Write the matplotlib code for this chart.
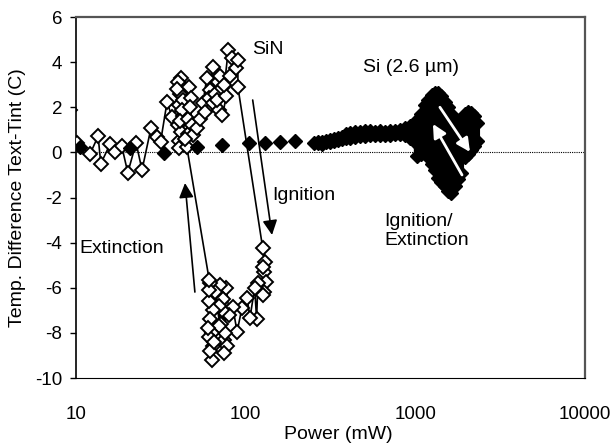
#!/usr/bin/env python3
from __future__ import annotations

import matplotlib

matplotlib.use("Agg")
import matplotlib.pyplot as plt


# SiN film (open diamonds, connected in measurement order)
SIN_POWER = [
    9.2, 10.1, 12.1, 13.5, 14.0, 15.9, 16.9, 18.6, 20.2, 22.6, 24.5, 27.7, 30.0, 31.5, 34.4, 36.8,
    40.5, 41.5, 39.8, 42.5, 40.2, 41.0, 42.8, 40.0, 41.8, 43.0, 40.6, 42.2, 39.6, 41.2,
    46.5, 45.5, 47.5, 46.0, 48.0, 47.0, 49.0, 52.0, 54.0, 56.0, 59.0, 62.0, 57.5, 64.0, 60.5, 64.0,
    69.0, 66.0, 70.0, 73.0, 67.5, 73.0, 77.0, 71.0, 81.0, 75.0, 79.0, 83.0, 88.0, 90.0, 90.0,
    126.0, 130.0, 128.0, 131.0, 127.0, 129.0, 126.0, 118.0, 116.0, 113.0, 106.0, 102.0, 95.0, 89.0,
    84.0, 80.0, 77.0, 75.0, 74.0, 72.0, 78.0, 71.0, 73.0, 76.0, 70.0, 69.5, 74.5,
    66.0, 64.0, 62.0, 63.0, 61.0, 64.0, 62.0, 63.0, 61.0, 60.5, 62.0, 60.0, 65.0, 61.0,
    45.0, 44.0,
]
SIN_DT = [
    1.9, 0.42, -0.07, 0.72, -0.5, 0.37, 0.02, 0.28, -0.9, 0.42, -0.78, 1.1, 0.7, 0.46, 2.23, 1.57,
    2.1, 3.3, 1.2, 2.9, 0.5, 2.6, 1.6, 3.1, 0.9, 2.3, 0.2, 1.9, 2.8, 1.4,
    2.9, 1.5, 2.4, 0.8, 1.2, 2.0, 0.75, 1.1, 1.5, 2.2, 3.3, 2.75, 1.8, 3.8, 2.4, 2.2,
    3.1, 2.6, 1.9, 2.85, 2.3, 1.65, 2.5, 3.4, 3.4, 3.0, 4.55, 4.18, 3.75, 4.1, 2.9,
    -4.24, -4.86, -5.3, -5.75, -5.1, -6.2, -6.3, -5.8, -7.4, -6.0, -7.34, -6.45, -6.9, -7.96,
    -6.85, -7.2, -6.0, -8.3, -6.5, -7.6, -8.6, -5.9, -7.0, -8.0, -6.8, -7.7, -8.9,
    -6.2, -7.0, -5.8, -8.0, -6.6, -8.6, -7.4, -9.2, -8.2, -6.1, -8.8, -7.8, -8.4, -5.66,
    0.24, 0.6,
]

# Si (2.6 um) film, sparse low-power points (filled diamonds)
SI_SPARSE_POWER = [10.6, 20.8, 33, 52, 73, 104, 130, 159, 195, 252]
SI_SPARSE_DT = [0.24, 0.19, -0.03, 0.24, 0.33, 0.42, 0.42, 0.46, 0.5, 0.42]

# Si dense high-power readings (alternating high / low per power step)
SI_DENSE_POWER = [
    267, 267, 282, 282, 297, 297, 314, 314, 331, 331, 350, 350, 369, 369, 390, 390,
    412, 412, 441, 441, 472, 472, 505, 505, 540, 540, 578, 578, 619, 619, 662, 662,
    709, 709, 758, 758, 811, 811, 868, 868, 929, 929, 981, 981, 1022, 1022, 1079, 1079,
    1139, 1139, 1187, 1187, 1253, 1253, 1305, 1305, 1359, 1359, 1416, 1416, 1494, 1494,
    1557, 1557, 1622, 1622, 1712, 1712, 1783, 1783, 1857, 1857, 1960, 1960, 2042, 2042,
    2127, 2127, 2215, 2215, 2307, 2307,
]
SI_DENSE_DT = [
    0.40, 0.45, 0.48, 0.38, 0.50, 0.45, 0.48, 0.57, 0.60, 0.52, 0.55, 0.65, 0.70, 0.60, 0.62, 0.80,
    0.85, 0.65, 0.70, 0.90, 0.90, 0.72, 0.72, 0.95, 0.95, 0.75, 0.78, 0.90, 0.95, 0.75, 0.78, 0.90,
    0.95, 0.75, 0.80, 0.95, 1.00, 0.80, 0.75, 1.10, 1.15, 0.65, 0.50, 1.25, 1.45, -0.15, -0.05, 1.70,
    2.10, 0.15, -0.20, 2.30, 2.55, -0.50, -0.80, 2.65, 2.65, -1.15, -1.30, 2.50, 2.25, -1.50,
    -1.70, 2.00, 1.70, -1.80, -1.50, 1.25, 1.30, -1.20, -0.90, 1.50, 1.70, -0.20, -0.05, 1.80,
    1.75, 0.10, 0.30, 1.60, 1.30, 0.50,
]

Y_TICKS = [-10, -8, -6, -4, -2, 0, 2, 4, 6]
X_TICKS = [10, 100, 1000, 10000]
X_TICK_LABELS = ["10", "100", "1000", "10000"]

FONT = "Liberation Sans"
FS = 14
MS = 7.0


def arrow(ax, start, end, color, lw, scale):
    ax.annotate(
        "", xy=end, xytext=start, zorder=6,
        arrowprops=dict(arrowstyle="-|>", color=color, lw=lw, mutation_scale=scale,
                        shrinkA=0, shrinkB=0),
    )


def main() -> None:
    plt.rcParams["font.family"] = [FONT, "DejaVu Sans"]
    plt.rcParams["axes.unicode_minus"] = False
    fig = plt.figure(figsize=(6.15, 4.44), dpi=100)
    ax = fig.add_axes([76 / 615, 1 - 378 / 444, 509 / 615, 361 / 444])

    ax.axhline(0, color="black", lw=0.8, ls=(0, (1, 1)), zorder=1)

    ax.plot(SIN_POWER, SIN_DT, color="black", lw=1.2, marker="D", ms=MS,
            mfc="white", mec="black", mew=1.4, zorder=3)
    ax.plot(SI_SPARSE_POWER, SI_SPARSE_DT, ls="none", marker="D", ms=MS,
            mfc="black", mec="black", zorder=4)
    ax.plot(SI_DENSE_POWER, SI_DENSE_DT, color="black", lw=4.5, marker="D", ms=MS,
            mfc="black", mec="black", zorder=4)

    # transition arrows
    arrow(ax, (110, 2.32), (143, -3.66), "black", 1.2, 22)     # SiN ignition
    arrow(ax, (50.2, -6.19), (43.9, -1.36), "black", 1.2, 22)  # SiN extinction
    arrow(ax, (1396, 2.0), (2099, 0.02), "white", 2.0, 20)     # Si ignition
    arrow(ax, (1884, -1.0), (1270, 1.26), "white", 2.0, 20)    # Si extinction

    ax.text(109, 4.54, "SiN", fontsize=FS, ha="left", va="center")
    ax.text(491, 3.74, "Si (2.6 µm)", fontsize=FS, ha="left", va="center")
    ax.text(143, -1.93, "Ignition", fontsize=FS, ha="left", va="center")
    ax.text(10.5, -4.24, "Extinction", fontsize=FS, ha="left", va="center")
    ax.text(653, -3.47, "Ignition/\nExtinction", fontsize=FS, ha="left", va="center",
            linespacing=1.15)

    ax.set_xscale("log")
    ax.set_xlim(10, 10000)
    ax.set_ylim(-10, 6)
    ax.set_xticks(X_TICKS)
    ax.set_xticklabels(X_TICK_LABELS)
    ax.minorticks_off()
    ax.set_yticks(Y_TICKS)
    ax.tick_params(axis="x", length=0, pad=20, labelsize=13.5)
    ax.tick_params(axis="y", direction="out", length=4, width=1, pad=6, labelsize=13.5)

    ax.spines["left"].set_color("black")
    ax.spines["left"].set_linewidth(1.2)
    for side in ("top", "right"):
        ax.spines[side].set_color("#555555")
        ax.spines[side].set_linewidth(1.6)
    ax.spines["bottom"].set_linestyle((0, (1, 1)))
    ax.spines["bottom"].set_linewidth(0.8)

    ax.set_xlabel("Power (mW)", fontsize=FS)
    ax.xaxis.set_label_coords((338 - 76) / 509, (378 - 426) / 361)
    ax.set_ylabel("Temp. Difference Text-Tint (C)", fontsize=FS)
    ax.yaxis.set_label_coords((26 - 76) / 509, 0.5)

    fig.savefig("out.png", dpi=100)
    plt.close(fig)


if __name__ == "__main__":
    main()
